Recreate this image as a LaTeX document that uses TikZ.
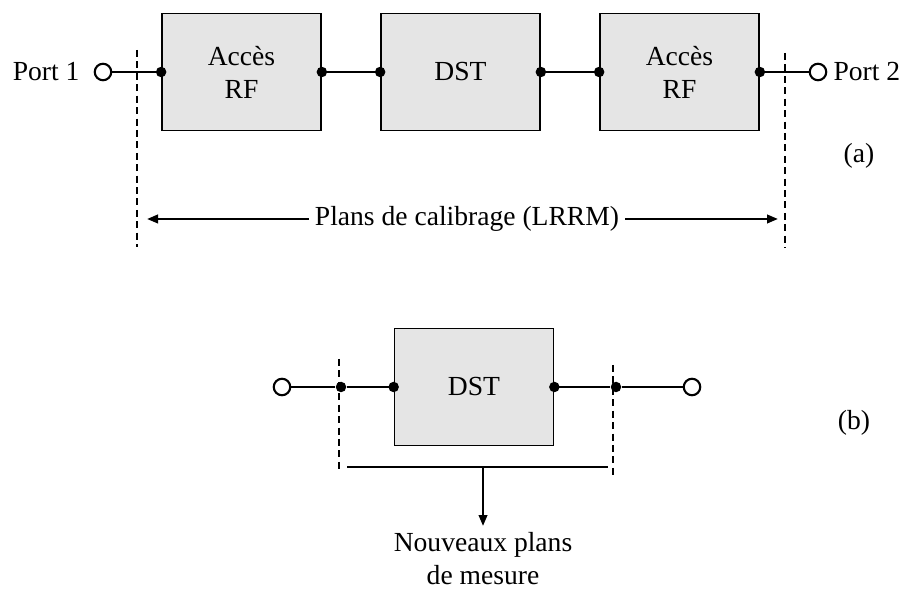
\documentclass[tikz,border=0pt]{standalone}
\usepackage{fontspec}
\setmainfont{Liberation Serif}
\usepackage{tikz}
\usetikzlibrary{positioning,arrows.meta}

\begin{document}
\begin{tikzpicture}[x=0.02cm,y=-0.02cm,font=\fontsize{15.7}{18.8}\selectfont]
%\draw[help lines] (0,0) grid (915,590);

\tikzset{bloc/.style={draw,line width=1pt,fill=black!10,minimum width=3.18cm,minimum height=2.34cm,align=center},
pin/.style={circle,fill,inner sep=0pt,minimum size=0.21cm},
port/.style={circle,draw,line width=1.2pt,fill=white,inner sep=0pt,minimum size=0.33cm},
fil/.style={line width=1.4pt},
plan/.style={line width=0.8pt,dash pattern=on 4pt off 2.5pt},
fleche/.style={line width=1.3pt,-{Triangle[length=2.2mm,width=1.7mm]}}}
\useasboundingbox (0,0) rectangle (915,590);

% (a) chaine complete
\node[bloc] (acc1) at (241.5,72) {Accès\\RF};
\node[bloc] (dst) at (460.5,72) {DST};
\node[bloc] (acc2) at (679.5,72) {Accès\\RF};
\node[port] (port1) at (103,72) {};
\node[port] (port2) at (818,72) {};
\node[left=0.16cm of port1] (t1) {Port 1};
\node[right=0pt of port2] (t2) {Port 2};
\draw[fil] (port1) -- (acc1.west);
\draw[fil] (acc1.east) -- (dst.west);
\draw[fil] (dst.east) -- (acc2.west);
\draw[fil] (acc2.east) -- (port2);
\foreach \n in {acc1,dst,acc2}{
  \node[pin] at (\n.west) {};
  \node[pin] at (\n.east) {};
}
\coordinate (c1h) at (137,50);
\coordinate (c1b) at (137,247);
\coordinate (c2h) at (785,53);
\coordinate (c2b) at (785,248);
\draw[plan] (c1h) -- (c1b);
\draw[plan] (c2h) -- (c2b);
\node (calib) at (467,219) {Plans de calibrage (LRRM)};
\coordinate (fg) at (147,219);
\coordinate (fd) at (778,219);
\draw[fleche] (calib.west) -- (fg);
\draw[fleche] (calib.east) -- (fd);
\node (la) at (859,156) {(a)};

% (b) apres epluchage
\node[bloc] (dstb) at (474,387) {DST};
\node[port] (pb1) at (282,387) {};
\node[port] (pb2) at (692,387) {};
\node[pin] (qb1) at (341,387) {};
\node[pin] (qb4) at (616,387) {};
\draw[fil] (pb1) -- (qb1) -- (dstb.west);
\draw[fil] (dstb.east) -- (qb4) -- (pb2);
\node[pin] at (dstb.west) {};
\node[pin] at (dstb.east) {};
\coordinate (d1h) at (339,359);
\coordinate (d1b) at (339,471);
\coordinate (d2h) at (613,365);
\coordinate (d2b) at (613,475);
\draw[plan] (d1h) -- (d1b);
\draw[plan] (d2h) -- (d2b);
\coordinate (mg) at (347,467);
\coordinate (md) at (608,467);
\coordinate (mm) at (483,467);
\draw[fil] (mg) -- (md);
\node[anchor=north,align=center] (nouv) at (483,526) {Nouveaux plans\\de mesure};
\draw[fleche] (mm) -- (nouv);
\node (lb) at (854,423) {(b)};
\end{tikzpicture}
\end{document}
